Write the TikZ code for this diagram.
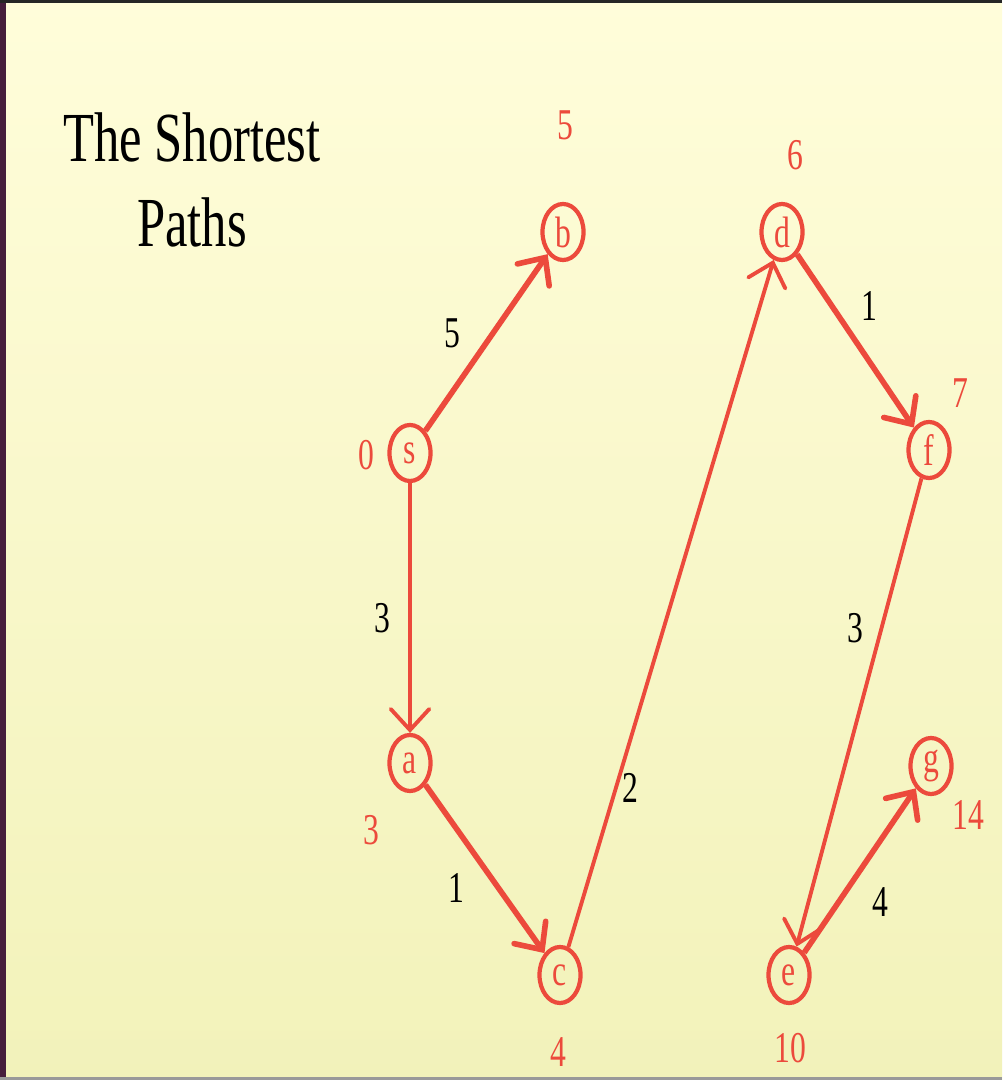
\documentclass[tikz,border=0pt]{standalone}
\usepackage{fontspec}
\setmainfont[FakeStretch=0.72]{Liberation Serif}
\usetikzlibrary{arrows.meta,shapes.geometric}

\definecolor{paper}{RGB}{255,253,218}
\definecolor{paperlow}{RGB}{242,242,186}
\definecolor{pathred}{RGB}{236,74,60}
\definecolor{rim}{RGB}{70,30,60}

\begin{document}
\begin{tikzpicture}[
  x=0.01cm, y=-0.01cm,
  vertex/.style={draw=pathred, ellipse, line width=1.2pt, minimum width=4.1mm, minimum height=5.6mm,
    inner sep=0pt, text=pathred, font=\fontsize{12.5}{14}\selectfont},
  dist/.style={text=pathred, font=\fontsize{12.5}{14}\selectfont, inner sep=1pt},
  weight/.style={text=black, font=\fontsize{12.5}{14}\selectfont, inner sep=1pt},
  flow/.style={draw=pathred, line width=1.6pt, -{Straight Barb[length=6pt,width=11pt,line cap=round]}},
  thinflow/.style={flow, line width=1.1pt}
]
% slide background
\shade[top color=paper, bottom color=paperlow] (0,0) rectangle (1002,1080);
\fill[rim] (0,0) rectangle (6,1080);
\fill[black!85] (0,0) rectangle (1002,3);
\fill[black!40] (0,1077) rectangle (1002,1080);
\useasboundingbox (0,0) rectangle (1002,1080);

\node[align=center, font=\fontsize{20}{24}\selectfont] (title) at (192,180) {The Shortest\\Paths};

% vertices
\node[vertex] (b) at (563,232) {b};
\node[vertex] (d) at (782,232) {d};
\node[vertex] (s) at (410,453) {s};
\node[vertex] (f) at (929,450) {f};
\node[vertex] (a) at (410,763) {a};
\node[vertex] (g) at (931,766) {g};
\node[vertex] (c) at (560,975) {c};
\node[vertex] (e) at (789,975) {e};

% distances
\node[dist] (db) at (565,125) {5};
\node[dist] (dd) at (795,155) {6};
\node[dist] (ds) at (366,455) {0};
\node[dist] (df) at (960,393) {7};
\node[dist] (da) at (371,830) {3};
\node[dist] (dg) at (968,815) {14};
\node[dist] (dc) at (558,1052) {4};
\node[dist] (de) at (790,1048) {10};

% edges
\draw[flow] (s) -- (b);
\draw[thinflow] (s) -- (a);
\draw[flow] (a) -- (c);
\draw[thinflow] (c) -- (d);
\draw[flow] (d) -- (f);
\draw[thinflow] (f) -- (e);
\draw[flow] (e) -- (g);

% weights
\node[weight] (wsb) at (452,333) {5};
\node[weight] (wsa) at (382,618) {3};
\node[weight] (wac) at (456,888) {1};
\node[weight] (wcd) at (630,788) {2};
\node[weight] (wdf) at (869,306) {1};
\node[weight] (wfe) at (855,628) {3};
\node[weight] (weg) at (880,902) {4};
\end{tikzpicture}
\end{document}
